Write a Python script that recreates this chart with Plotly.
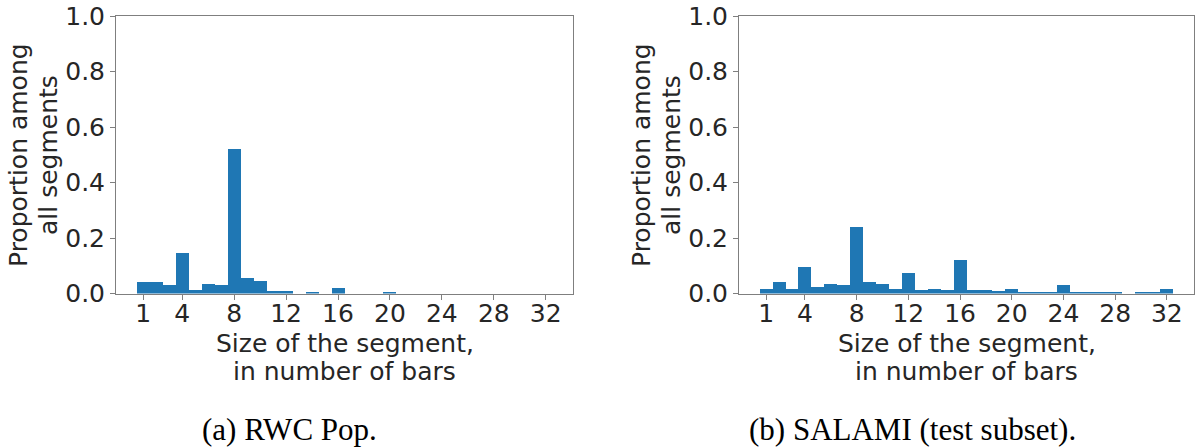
import plotly.graph_objects as go

sizes = list(range(1, 33))
rwc_pop = [0.043, 0.043, 0.030, 0.147, 0.014, 0.035, 0.030, 0.520, 0.055, 0.044,
           0.010, 0.010, 0.0, 0.005, 0.0, 0.020, 0.0, 0.0, 0.0, 0.005,
           0.0, 0.0, 0.0, 0.0, 0.0, 0.0, 0.0, 0.0, 0.0, 0.0, 0.0, 0.0]
salami = [0.018, 0.040, 0.018, 0.097, 0.024, 0.034, 0.029, 0.241, 0.040, 0.034,
          0.018, 0.073, 0.014, 0.018, 0.014, 0.122, 0.014, 0.014, 0.010, 0.018,
          0.005, 0.005, 0.005, 0.029, 0.005, 0.005, 0.005, 0.005, 0.0, 0.005, 0.005, 0.018]
x_ticks = [1, 4, 8, 12, 16, 20, 24, 28, 32]
y_ticks = [0.0, 0.2, 0.4, 0.6, 0.8, 1.0]
captions = ["(a) RWC Pop.", "(b) SALAMI (test subset)."]
x_title_lines = ["Size of the segment,", "in number of bars"]
y_title_lines = ["Proportion among", "all segments"]

W, H = 1195, 447
BLUE = "#1f77b4"
SPINE = "#7f7f7f"
TXT = "#262626"
FONT = "DejaVu Sans"
FS = 25


def px_x(x):
    return x / W


def px_y(y):
    return (H - y) / H


fig = go.Figure()
fig.add_trace(go.Bar(x=sizes, y=rwc_pop, width=1, marker=dict(color=BLUE, line=dict(width=0)),
                     xaxis="x", yaxis="y", showlegend=False))
fig.add_trace(go.Bar(x=sizes, y=salami, width=1, marker=dict(color=BLUE, line=dict(width=0)),
                     xaxis="x2", yaxis="y2", showlegend=False))

y_dom = [px_y(293.5), px_y(16)]
common_x = dict(range=[-1.1, 34.1], tickmode="array", tickvals=x_ticks,
                ticks="outside", ticklen=5, tickwidth=1, tickcolor=SPINE,
                showline=True, linecolor=SPINE, linewidth=1, mirror=True,
                showgrid=False, zeroline=False, automargin=False,
                ticklabelstandoff=-8,
                tickfont=dict(family=FONT, size=FS, color=TXT))
common_y = dict(range=[0, 1], tickmode="array", tickvals=y_ticks,
                ticktext=[f"{v:.1f}" for v in y_ticks],
                ticks="outside", ticklen=5, tickwidth=1, tickcolor=SPINE,
                showline=True, linecolor=SPINE, linewidth=1, mirror=True,
                showgrid=False, zeroline=False, domain=y_dom, automargin=False,
                tickfont=dict(family=FONT, size=FS, color=TXT))

panels = [(116, 573), (739, 1194)]
fig.update_layout(
    width=W, height=H, margin=dict(l=0, r=0, t=0, b=0, autoexpand=False),
    paper_bgcolor="white", plot_bgcolor="white", bargap=0,
    xaxis=dict(domain=[px_x(panels[0][0]), px_x(panels[0][1])], anchor="y", **common_x),
    yaxis=dict(anchor="x", **common_y),
    xaxis2=dict(domain=[px_x(panels[1][0]), min(1.0, px_x(panels[1][1]))], anchor="y2", **common_x),
    yaxis2=dict(anchor="x2", **common_y),
)

# axis titles (two lines each, matplotlib-like line spacing)
for (x0, x1) in panels:
    xc = (x0 + x1) / 2
    for line, yy in zip(x_title_lines, [343, 371]):
        fig.add_annotation(x=px_x(xc), y=px_y(yy), xref="paper", yref="paper",
                           text=line, showarrow=False, xanchor="center", yanchor="middle",
                           font=dict(family=FONT, size=FS, color=TXT))
    for line, dx in zip(y_title_lines, [-98, -68]):
        fig.add_annotation(x=px_x(x0 + dx), y=px_y(155), xref="paper", yref="paper",
                           text=line, showarrow=False, xanchor="center", yanchor="middle",
                           textangle=-90, font=dict(family=FONT, size=FS, color=TXT))

cap_x = [289, 912]
for cx, txt in zip(cap_x, captions):
    fig.add_annotation(x=px_x(cx), y=px_y(429), xref="paper", yref="paper",
                       text=txt, showarrow=False, xanchor="center", yanchor="middle",
                       font=dict(family="Liberation Serif", size=31, color="black"))

fig.write_html("out.html", config={"displayModeBar": False},
               post_script="document.body.style.margin='0px';")
